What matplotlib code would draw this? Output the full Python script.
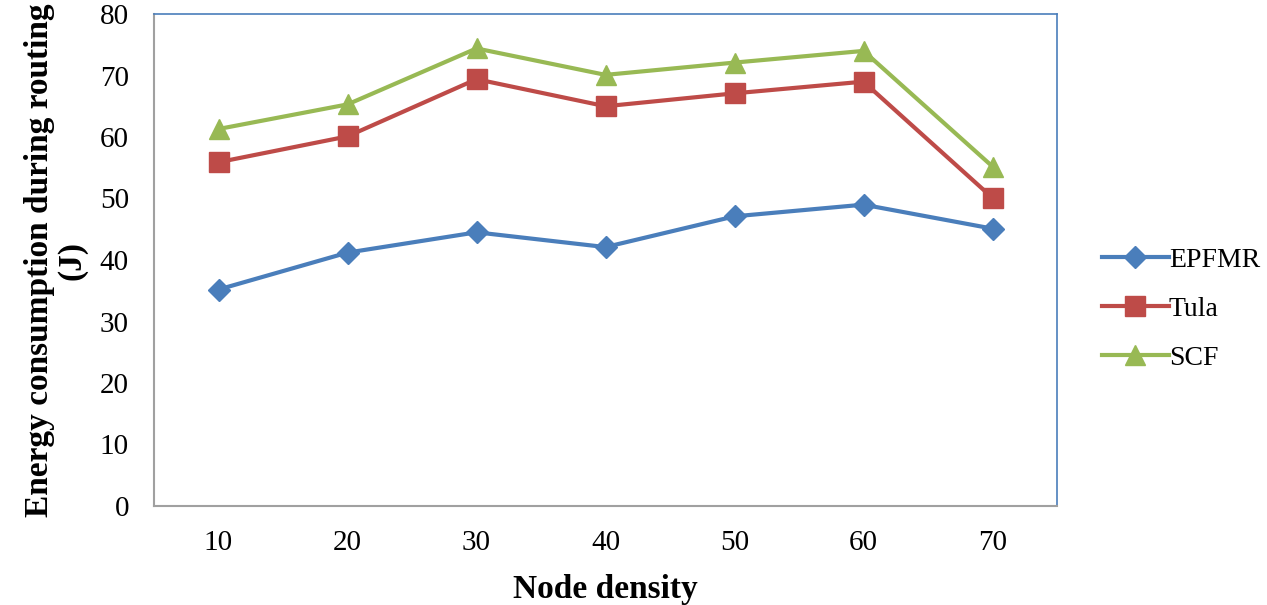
import matplotlib.pyplot as plt

node_density = [10, 20, 30, 40, 50, 60, 70]
epfmr = [35.2, 41.2, 44.5, 42.1, 47.1, 49.0, 45.1]
tula = [55.9, 60.1, 69.4, 65.0, 67.1, 69.0, 50.1]
scf = [61.3, 65.3, 74.4, 70.1, 72.1, 74.0, 55.2]

plt.rcParams['font.family'] = ['Liberation Serif', 'DejaVu Serif']

fig = plt.figure(figsize=(12.67, 6.05), dpi=100)
ax = fig.add_axes([154 / 1267, 1 - 506 / 605, 903 / 1267, 492 / 605])

ax.plot(node_density, epfmr, color='#4A7EBB', lw=3, marker='D', ms=11, label='EPFMR')
ax.plot(node_density, tula, color='#BE4B48', lw=3, marker='s', ms=14, label='Tula')
ax.plot(node_density, scf, color='#98B954', lw=3, marker='^', ms=15, label='SCF')

ax.set_xlim(5, 75)
ax.set_ylim(0, 80)
ax.set_xticks(node_density)
ax.set_yticks(range(0, 81, 10))
ax.tick_params(length=0, labelsize=21)
ax.tick_params(axis='y', pad=18)
ax.tick_params(axis='x', pad=17)

for side in ['left', 'bottom']:
    ax.spines[side].set_color('#A0A0A0')
    ax.spines[side].set_linewidth(1.5)
for side in ['top', 'right']:
    ax.spines[side].set_color('#4A7EBB')
    ax.spines[side].set_linewidth(1.2)

ax.set_xlabel('Node density', fontsize=24, fontweight='bold', labelpad=13)
ax.set_ylabel('Energy consumption during routing\n(J)', fontsize=24, fontweight='bold',
              labelpad=9, linespacing=1.05)

ax.legend(loc='center left', bbox_to_anchor=(1.05, 0.40), frameon=False, fontsize=20,
          handlelength=2.4, handletextpad=0.0, labelspacing=0.85,
          borderpad=0, borderaxespad=0)

fig.savefig('out.png', dpi=100)
